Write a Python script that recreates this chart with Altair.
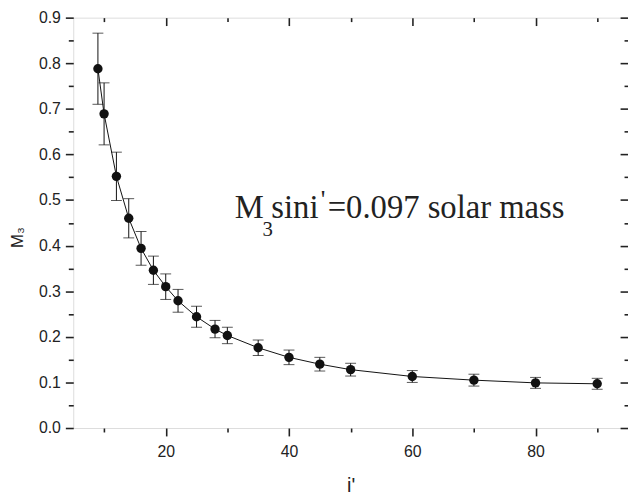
import altair as alt
import pandas as pd

incl = [9, 10, 12, 14, 16, 18, 20, 22, 25, 28, 30, 35, 40, 45, 50, 60, 70, 80, 90]
m3 = [0.788, 0.689, 0.552, 0.460, 0.394, 0.346, 0.310, 0.279, 0.244, 0.217, 0.203,
      0.176, 0.155, 0.140, 0.128, 0.113, 0.105, 0.099, 0.097]
err = [0.078, 0.068, 0.053, 0.043, 0.037, 0.031, 0.028, 0.025, 0.023, 0.019, 0.018,
       0.017, 0.016, 0.015, 0.014, 0.013, 0.013, 0.012, 0.012]

x_major = [20, 40, 60, 80]
x_minor = [10, 30, 50, 70, 90]
y_major = [0.0, 0.1, 0.2, 0.3, 0.4, 0.5, 0.6, 0.7, 0.8, 0.9]
y_minor = [0.05, 0.15, 0.25, 0.35, 0.45, 0.55, 0.65, 0.75, 0.85]

df = pd.DataFrame({"i": incl, "m": m3, "e": err})
df["lo"] = df["m"] - df["e"]
df["hi"] = df["m"] + df["e"]

XS = alt.Scale(domain=[5, 95], nice=False, zero=False)
YS = alt.Scale(domain=[0, 0.9], nice=False, zero=False)
LBL = dict(labelFont="Liberation Sans", labelFontSize=16, labelColor="#222",
           titleFont="Liberation Sans", titleColor="#222",
           titleFontWeight="normal", domain=False, grid=False,
           tickColor="#222", tickWidth=1.6)

base = alt.Chart(df)

line = base.mark_line(color="#111", strokeWidth=1).encode(
    x=alt.X("i:Q", scale=XS, axis=alt.Axis(orient="bottom", values=x_major, format="d",
                                          tickSize=8, labelPadding=8, title="i'",
                                          titleFontSize=20, titlePadding=16, **LBL)),
    y=alt.Y("m:Q", scale=YS, axis=alt.Axis(orient="left", values=y_major, format=".1f",
                                          tickSize=8, labelPadding=5, title="M₃",
                                          titleFontSize=17, titleX=-47, titleY=222,
                                          **LBL)),
)

bars = base.mark_rule(color="#111", strokeWidth=1).encode(
    x=alt.X("i:Q", scale=XS, axis=alt.Axis(orient="bottom", values=x_minor, tickSize=4,
                                          labels=False, title=None, **LBL)),
    y=alt.Y("lo:Q", scale=YS, axis=alt.Axis(orient="left", values=y_minor, tickSize=5,
                                           labels=False, title=None, **LBL)),
    y2="hi:Q",
)

caps_hi = base.mark_tick(color="#111", orient="horizontal", size=11, thickness=1).encode(
    x=alt.X("i:Q", scale=XS, axis=alt.Axis(orient="top", values=x_major, tickSize=8,
                                          offset=-8, labels=False, title=None, **LBL)),
    y=alt.Y("hi:Q", scale=YS, axis=alt.Axis(orient="right", values=y_major, tickSize=8,
                                           offset=-8, labels=False, title=None, **LBL)),
)

caps_lo = base.mark_tick(color="#111", orient="horizontal", size=11, thickness=1).encode(
    x=alt.X("i:Q", scale=XS, axis=alt.Axis(orient="top", values=x_minor, tickSize=4,
                                          offset=-4, labels=False, title=None, **LBL)),
    y=alt.Y("lo:Q", scale=YS, axis=alt.Axis(orient="right", values=y_minor, tickSize=4,
                                           offset=-4, labels=False, title=None, **LBL)),
)

points = base.mark_circle(color="#111", size=90, opacity=1).encode(
    x=alt.X("i:Q", scale=XS, axis=None),
    y=alt.Y("m:Q", scale=YS, axis=None),
)

ann_x = 31.2
ann_y = 0.46
ann_df = pd.DataFrame({"x": [ann_x], "y": [ann_y]})
SERIF = "Liberation Serif"


def piece(txt, size, dx, dy):
    return alt.Chart(ann_df).mark_text(text=txt, font=SERIF, fontSize=size, color="#222",
                                       align="left", baseline="alphabetic", dx=dx, dy=dy).encode(
        x=alt.X("x:Q", scale=XS, axis=None),
        y=alt.Y("y:Q", scale=YS, axis=None),
    )


ann = (piece("M", 33, 0, 0) + piece("3", 21, 28, 18) + piece("sini", 33, 37, 0)
       + piece("'", 26, 87, -10) + piece("=0.097 solar mass", 33, 94, 0))

chart = alt.layer(line, bars, caps_hi, caps_lo, points, ann).resolve_axis(
    x="independent", y="independent"
).properties(
    width=561, height=415,
    autosize=alt.AutoSizeParams(type="none"),
    padding={"left": 66, "top": 7, "right": 0, "bottom": 67},
).configure_view(stroke="#111", strokeWidth=2).configure(background="white")

chart.save("out.html", embed_options={"renderer": "svg", "actions": False})
